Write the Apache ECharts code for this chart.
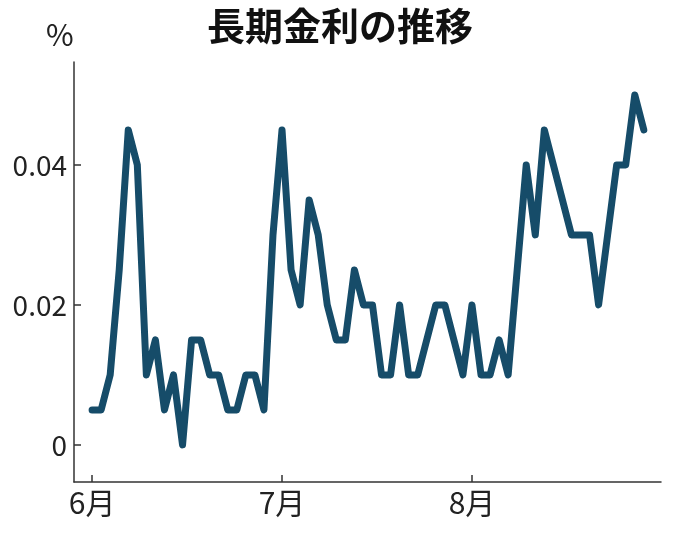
<!DOCTYPE html>
<html>
<head>
<meta charset="utf-8">
<script src="https://cdn.jsdelivr.net/npm/echarts@6/dist/echarts.min.js"></script>
<style>
html,body{margin:0;padding:0;background:#fff;}
#c{width:680px;height:536px;}
</style>
</head>
<body>
<div id="c"></div>
<script>
var titleText = '長期金利の推移';
var unitText = '%';
var monthLabels = ['6月', '7月', '8月'];
var monthTickIdx = [0, 21, 42];
var yTicks = [0, 0.02, 0.04];
var rates = [
  0.005, 0.005, 0.01, 0.025, 0.045, 0.04, 0.01, 0.015, 0.005, 0.01,
  0.0, 0.015, 0.015, 0.01, 0.01, 0.005, 0.005, 0.01, 0.01, 0.005,
  0.03, 0.045, 0.025, 0.02, 0.035, 0.03, 0.02, 0.015, 0.015, 0.025,
  0.02, 0.02, 0.01, 0.01, 0.02, 0.01, 0.01, 0.015, 0.02, 0.02,
  0.015, 0.01, 0.02, 0.01, 0.01, 0.015, 0.01, 0.025, 0.04, 0.03,
  0.045, 0.04, 0.035, 0.03, 0.03, 0.03, 0.02, 0.03, 0.04, 0.04,
  0.05, 0.045
];

var seriesData = rates.map(function (v, i) { return [i, v]; });
var numFont = '"Liberation Sans Narrow", "Arial Narrow", "Noto Sans CJK JP", sans-serif';

var chart = echarts.init(document.getElementById('c'));
chart.setOption({
  animation: false,
  backgroundColor: '#ffffff',
  title: {
    text: titleText,
    left: 'center',
    top: 2,
    textStyle: {
      fontFamily: '"Noto Sans CJK JP", sans-serif',
      fontWeight: 'bold',
      fontSize: 38,
      color: '#111'
    }
  },
  graphic: [{
    type: 'text',
    left: 46,
    top: 20,
    style: {
      text: unitText,
      fontFamily: numFont,
      fontSize: 30,
      fill: '#222'
    }
  }],
  grid: { left: 74, right: 19, top: 62, bottom: 54, containLabel: false },
  xAxis: {
    type: 'value',
    min: -2,
    max: 62.9,
    splitLine: { show: false },
    axisLine: { show: true, onZero: false, lineStyle: { color: '#333', width: 1.5 } },
    axisTick: { show: true, inside: true, length: 7, customValues: monthTickIdx, lineStyle: { color: '#333', width: 1.5 } },
    axisLabel: {
      customValues: monthTickIdx,
      margin: 6,
      fontFamily: numFont,
      fontSize: 30,
      color: '#222',
      formatter: function (v) {
        var k = monthTickIdx.indexOf(Math.round(v));
        return k >= 0 ? monthLabels[k] : '';
      }
    }
  },
  yAxis: {
    type: 'value',
    min: -0.0053,
    max: 0.0547,
    splitLine: { show: false },
    axisLine: { show: true, onZero: false, lineStyle: { color: '#333', width: 1.5 } },
    axisTick: { show: true, inside: true, length: 7, customValues: yTicks, lineStyle: { color: '#333', width: 1.5 } },
    axisLabel: {
      customValues: yTicks,
      margin: 7,
      fontFamily: numFont,
      fontSize: 28,
      color: '#222',
      formatter: function (v) {
        return Math.abs(v) < 1e-9 ? '0' : v.toFixed(2);
      }
    }
  },
  series: [{
    type: 'line',
    data: seriesData,
    showSymbol: false,
    symbol: 'none',
    lineStyle: { color: '#164c69', width: 7, join: 'round', cap: 'round' },
    emphasis: { disabled: true }
  }]
});
</script>
</body>
</html>
